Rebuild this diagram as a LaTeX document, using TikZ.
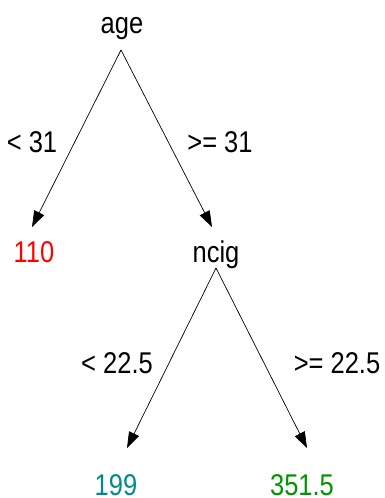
\documentclass[tikz,border=0pt]{standalone}
\usepackage{fontspec}
\setmainfont[FakeStretch=0.85]{Liberation Sans}
\usetikzlibrary{arrows.meta}
\definecolor{leafred}{RGB}{255,0,0}
\definecolor{leafteal}{RGB}{0,139,139}
\definecolor{leafgreen}{RGB}{0,150,0}
\tikzset{
  lbl/.style={inner sep=0pt, anchor=base, font=\fontsize{30}{30}\selectfont},
  edge/.style={line width=0.7pt, -{Triangle[length=16pt,width=11pt]}}
}
\begin{document}
\begin{tikzpicture}[x=1pt,y=-1pt]
\useasboundingbox (0,0) rectangle (385,498);
% labels
\node[lbl] (age) at (122,33) {age};
\node[lbl] (ltA) at (32,152) {< 31};
\node[lbl] (geA) at (220,152) {>= 31};
\node[lbl, text=leafred] (n110) at (34,262) {110};
\node[lbl] (ncig) at (216,262) {ncig};
\node[lbl] (ltB) at (117,373) {< 22.5};
\node[lbl] (geB) at (337,373) {>= 22.5};
\node[lbl, text=leafteal] (n199) at (116,495) {199};
\node[lbl, text=leafgreen] (n351) at (302,495) {351.5};
% connector end points
\coordinate (ageS) at (121,50);
\coordinate (t110) at (32,227);
\coordinate (tncig) at (212,227);
\coordinate (ncigS) at (216,268);
\coordinate (t199) at (127,448);
\coordinate (t351) at (307,448);
% edges
\draw[edge] (ageS) -- (t110);
\draw[edge] (ageS) -- (tncig);
\draw[edge] (ncigS) -- (t199);
\draw[edge] (ncigS) -- (t351);
\end{tikzpicture}
\end{document}
